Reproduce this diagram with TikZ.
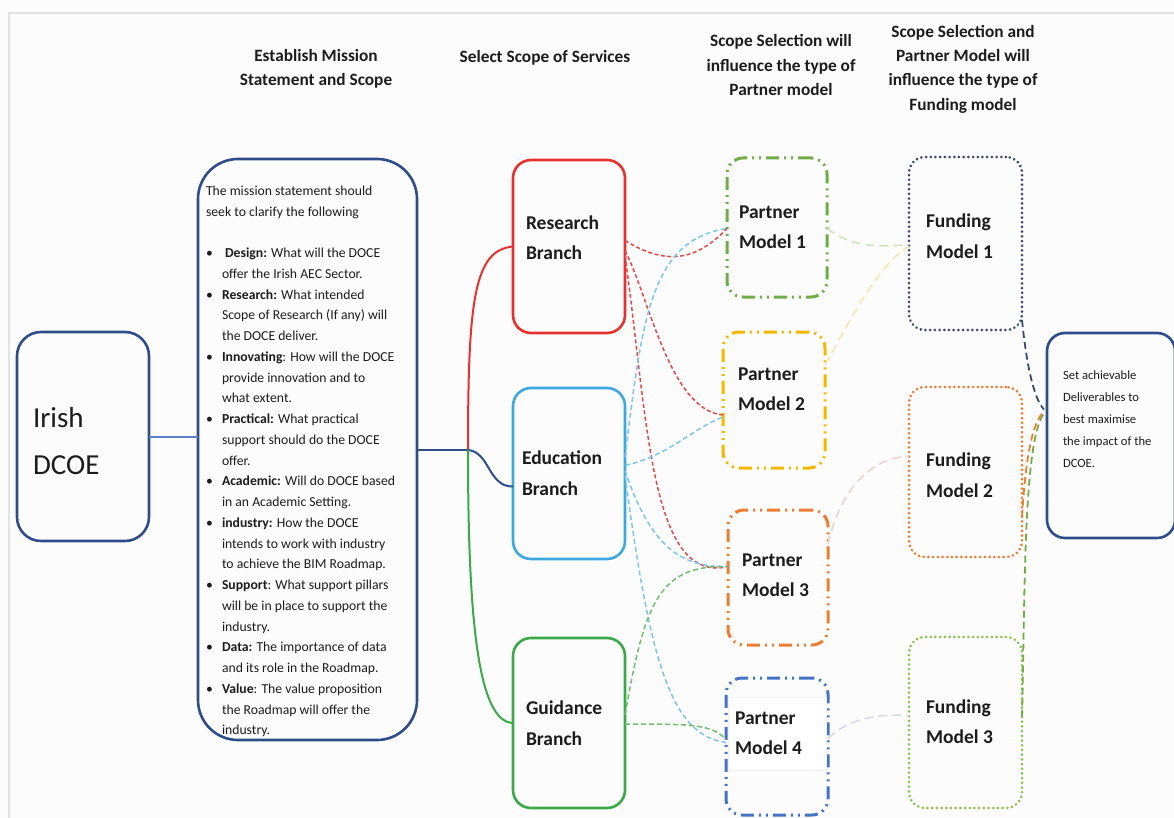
\documentclass[tikz,border=0pt]{standalone}
\usepackage{fontspec}
\setmainfont{Carlito}
\usetikzlibrary{calc}
\definecolor{bgc}{HTML}{FCFCFC}
\definecolor{framec}{HTML}{E2E2E2}
\definecolor{navy}{HTML}{2F4D8A}
\definecolor{linkblue}{HTML}{5B7FC8}
\definecolor{txt}{HTML}{1C1C1C}
\definecolor{resred}{HTML}{E5322F}
\definecolor{edublue}{HTML}{3DA8E0}
\definecolor{guigreen}{HTML}{3AAA48}
\definecolor{pgreen}{HTML}{70AD47}
\definecolor{pyellow}{HTML}{F5B800}
\definecolor{porange}{HTML}{ED7D31}
\definecolor{pblue}{HTML}{4472C4}
\definecolor{fslate}{HTML}{3C4A6B}
\definecolor{fgreen}{HTML}{8CC152}
\definecolor{dred}{HTML}{E5474A}
\definecolor{dblue}{HTML}{7CC6EA}
\definecolor{dgreen}{HTML}{6FBF72}
\definecolor{palegreen}{HTML}{D2E6BE}
\definecolor{paleyellow}{HTML}{F2E8B0}
\definecolor{palepink}{HTML}{EDD3D0}
\definecolor{palegray}{HTML}{D9DAE6}
\begin{document}
\begin{tikzpicture}[x=1pt,y=-1pt,
  every node/.style={inner sep=0pt, outer sep=0pt},
  solidbox/.style={draw, line width=2.6pt, rounded corners=18pt},
  partnerbox/.style={draw, line width=3pt, rounded corners=16pt,
     dash pattern=on 13pt off 5pt on 2pt off 5pt on 2pt off 5pt},
  fundbox/.style={draw, line width=2.9pt, rounded corners=16pt,
     line cap=round, dash pattern=on 0.1pt off 4.6pt},
  boxtext/.style={anchor=west, align=left, text=txt,
     font=\fontsize{19.5}{30.5}\selectfont\bfseries},
  headtext/.style={align=center, text=txt,
     font=\fontsize{17.3}{24.3}\selectfont\bfseries},
  branchlink/.style={line width=2pt},
  dlink/.style={line width=1.5pt, dash pattern=on 5pt off 3pt},
  plink/.style={line width=1.6pt, dash pattern=on 9pt off 5pt},
  flink/.style={line width=1.8pt, dash pattern=on 7pt off 4pt},
]
\useasboundingbox (0,0) rectangle (1174,818);
\fill[bgc] (0,0) rectangle (1174,818);
\draw[framec, line width=2pt] (9,818) -- (9,13) -- (1174,13);

% headers
\node[headtext] (h1) at (316,68.5) {Establish Mission\\Statement and Scope};
\node[headtext] (h2) at (545,58) {Select Scope of Services};
\node[headtext] (h3) at (781,65) {Scope Selection will\\influence the type of\\Partner model};
\node[headtext] (h4) at (963,69) {Scope Selection and\\Partner Model will\\influence the type of\\Funding model};

% Irish DCOE
\node[solidbox, draw=navy, rounded corners=24pt, minimum width=132pt, minimum height=209pt] (irish) at (83,436.5) {};
\node[anchor=west, align=left, text=txt, font=\fontsize{29}{47}\selectfont] (irisht) at (33,441.5) {Irish\\DCOE};

% Mission statement
\node[solidbox, draw=navy, rounded corners=40pt, minimum width=219pt, minimum height=581pt] (mission) at (307.5,449.5) {};
\node[anchor=west, align=left, text=txt, font=\fontsize{13.7}{20.75}\selectfont] (missiont) at (206,461.5) {%
The mission statement should\\
seek to clarify the following\\
\\
\makebox[16pt][l]{\textbullet}\ \textbf{Design:} What will the DOCE\\
\hspace*{16pt}offer the Irish AEC Sector.\\
\makebox[16pt][l]{\textbullet}\textbf{Research:} What intended\\
\hspace*{16pt}Scope of Research (If any) will\\
\hspace*{16pt}the DOCE deliver.\\
\makebox[16pt][l]{\textbullet}\textbf{Innovating}: How will the DOCE\\
\hspace*{16pt}provide innovation and to\\
\hspace*{16pt}what extent.\\
\makebox[16pt][l]{\textbullet}\textbf{Practical:} What practical\\
\hspace*{16pt}support should do the DOCE\\
\hspace*{16pt}offer.\\
\makebox[16pt][l]{\textbullet}\textbf{Academic:} Will do DOCE based\\
\hspace*{16pt}in an Academic Setting.\\
\makebox[16pt][l]{\textbullet}\textbf{industry:} How the DOCE\\
\hspace*{16pt}intends to work with industry\\
\hspace*{16pt}to achieve the BIM Roadmap.\\
\makebox[16pt][l]{\textbullet}\textbf{Support}: What support pillars\\
\hspace*{16pt}will be in place to support the\\
\hspace*{16pt}industry.\\
\makebox[16pt][l]{\textbullet}\textbf{Data:} The importance of data\\
\hspace*{16pt}and its role in the Roadmap.\\
\makebox[16pt][l]{\textbullet}\textbf{Value}: The value proposition\\
\hspace*{16pt}the Roadmap will offer the\\
\hspace*{16pt}industry.};

% branches
\node[solidbox, draw=resred, minimum width=112pt, minimum height=173pt] (rb) at (569,246.5) {};
\node[boxtext] (rbt) at (526,237.5) {Research\\Branch};
\node[solidbox, draw=edublue, minimum width=112pt, minimum height=171pt] (eb) at (569,473.5) {};
\node[boxtext] (ebt) at (522,473) {Education\\Branch};
\node[solidbox, draw=guigreen, minimum width=112pt, minimum height=170pt] (gb) at (569,723) {};
\node[boxtext] (gbt) at (526,723) {Guidance\\Branch};

% partner models
\node[partnerbox, draw=pgreen, minimum width=100pt, minimum height=139pt] (p1) at (777,227.5) {};
\node[boxtext] (p1t) at (739,227) {Partner\\Model 1};
\node[partnerbox, draw=pyellow, minimum width=102pt, minimum height=136pt] (p2) at (774,400) {};
\node[boxtext] (p2t) at (738,389) {Partner\\Model 2};
\node[partnerbox, draw=porange, minimum width=100pt, minimum height=135pt] (p3) at (778,577.5) {};
\node[boxtext] (p3t) at (742,575) {Partner\\Model 3};
\node[partnerbox, draw=pblue, minimum width=102pt, minimum height=137pt] (p4) at (777,746.5) {};
\node[draw=black!6, fill=white, line width=0.8pt, minimum width=98pt, minimum height=73pt] (p4bg) at (777,733.5) {};
\node[boxtext] (p4t) at (735,733) {Partner\\Model 4};

% funding models
\node[fundbox, draw=fslate, minimum width=113pt, minimum height=173pt] (f1) at (965.5,243.5) {};
\node[boxtext] (f1t) at (926,236) {Funding\\Model 1};
\node[fundbox, draw=porange, minimum width=113pt, minimum height=170pt] (f2) at (965.5,472) {};
\node[boxtext] (f2t) at (926,475) {Funding\\Model 2};
\node[fundbox, draw=fgreen, minimum width=113pt, minimum height=171pt] (f3) at (965.5,722.5) {};
\node[boxtext] (f3t) at (926,721.5) {Funding\\Model 3};

% final box
\node[solidbox, draw=navy, minimum width=128pt, minimum height=205pt] (fin) at (1111,435.5) {};
\node[anchor=west, align=left, text=txt, font=\fontsize{12.6}{22}\selectfont] (fint) at (1063,419) {Set achievable\\Deliverables to\\best maximise\\the impact of the\\DCOE.};

% solid tree connectors
\coordinate (junc) at (468,450);
\draw[linkblue, line width=1.2pt] (irish.east |- 0,437) -- (mission.west |- 0,437);
\draw[navy, line width=2.6pt] (mission.east |- junc) -- (junc);
\draw[branchlink, resred] (junc) .. controls (468,300) and (474,250) .. (rb.west);
\draw[branchlink, navy] (junc) .. controls (490,452) and (488,487) .. ($(eb.west)+(0,13)$);
\draw[branchlink, guigreen] (junc) .. controls (468,620) and (478,722) .. (gb.west);

% branch -> partner
\draw[dlink, dred, dash pattern=on 4pt off 2.5pt] ($(rb.east)+(0,-6)$) .. controls (665,265) and (695,262) .. ($(p1.west)+(0,1)$);
\draw[dlink, dred, dash pattern=on 4pt off 2.5pt] ($(rb.east)+(0,4)$) .. controls (650,300) and (670,410) .. ($(p2.west)+(0,15)$);
\draw[dlink, dred, dash pattern=on 4pt off 2.5pt] ($(rb.east)+(0,9)$) .. controls (648,420) and (650,585) .. ($(p3.west)+(0,-11)$);
\draw[dlink, dblue] ($(eb.east)+(0,-16)$) .. controls (642,320) and (650,240) .. ($(p1.west)+(0,1)$);
\draw[dlink, dblue] ($(eb.east)+(0,-8)$) .. controls (670,455) and (690,430) .. ($(p2.west)+(0,17)$);
\draw[dlink, dblue] ($(eb.east)+(0,-3)$) .. controls (650,545) and (680,568) .. ($(p3.west)+(0,-11)$);
\draw[dlink, dblue] ($(eb.east)+(0,2)$) .. controls (650,660) and (670,735) .. ($(p4.west)+(0,-4)$);
\draw[dlink, dgreen] ($(gb.east)+(0,-8)$) .. controls (645,600) and (660,565) .. ($(p3.west)+(0,-11)$);
\draw[dlink, dgreen] ($(gb.east)+(0,1)$) .. controls (690,724) and (712,724) .. ($(p4.west)+(0,-7)$);

% partner -> funding
\draw[plink, palegreen] ($(p1.east)+(0,1)$) .. controls (850,245) and (870,248) .. ($(f1.west)+(0,1)$);
\draw[plink, paleyellow] ($(p2.east)+(0,-35)$) .. controls (850,320) and (880,262) .. ($(f1.west)+(0,3)$);
\draw[plink, palepink] ($(p3.east)+(0,-33)$) .. controls (840,490) and (870,458) .. ($(f2.west)+(0,-16)$);
\draw[plink, palegray] ($(p4.east)+(0,-8)$) .. controls (845,722) and (870,713) .. ($(f3.west)+(0,-7)$);

% funding -> final
\draw[flink, fslate] ($(f1.south east)+(0,-10)$) .. controls (1026,360) and (1033,398) .. ($(fin.west)+(-3,-26)$);
\draw[flink, porange] ($(f2.east)+(0,45)$) .. controls (1026,450) and (1034,420) .. ($(fin.west)+(-3,-24)$);
\draw[flink, pgreen] ($(f3.east)+(0,-6)$) .. controls (1025,600) and (1023,440) .. ($(fin.west)+(-3,-22)$);
\end{tikzpicture}
\end{document}
